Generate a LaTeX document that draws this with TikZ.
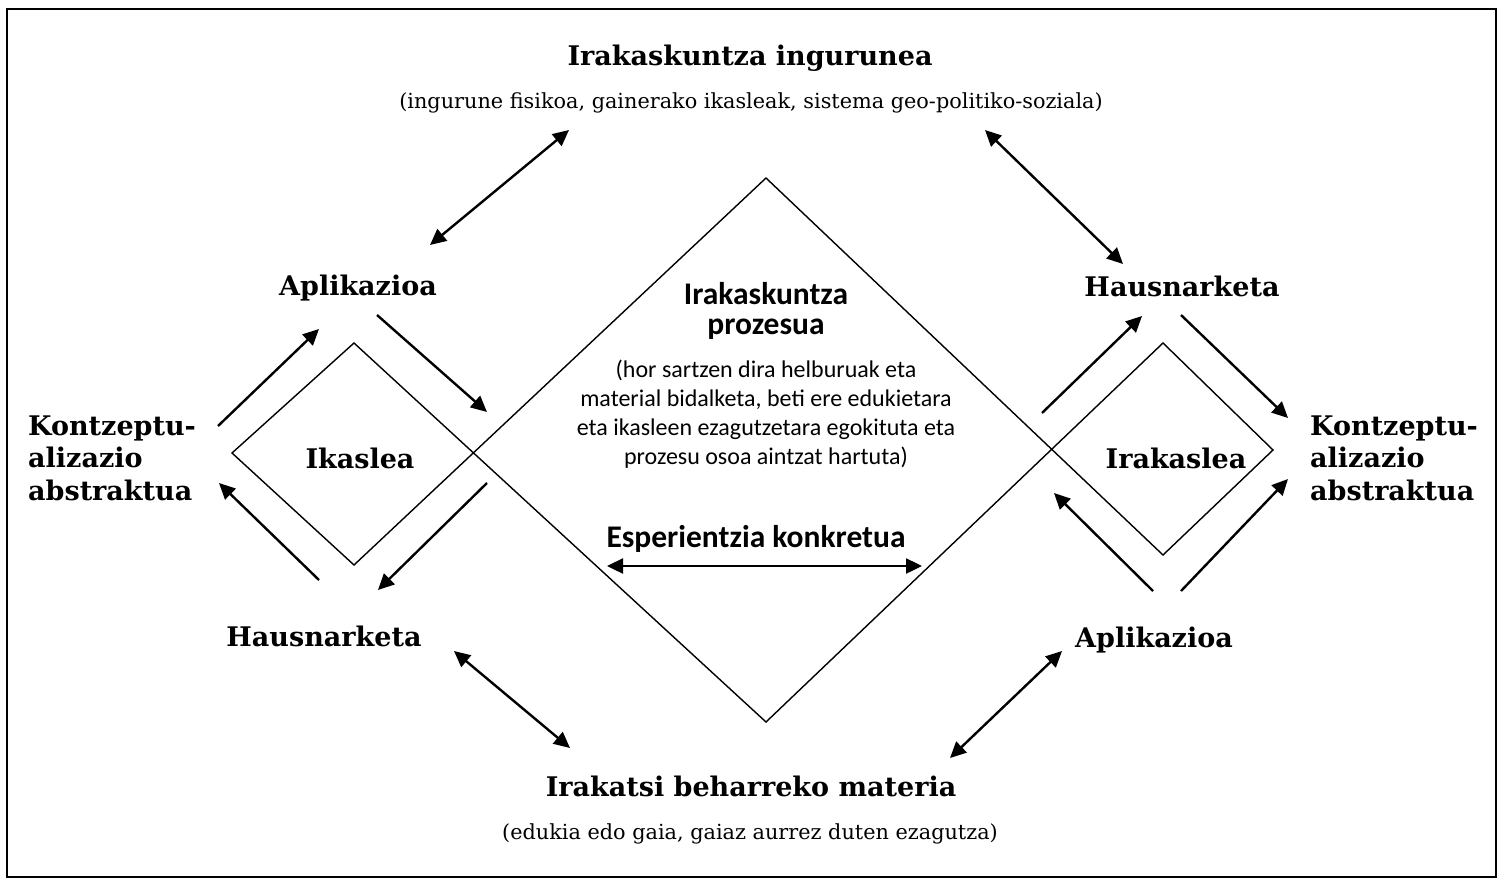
\documentclass[tikz,border=0pt]{standalone}
\usepackage{fontspec}
\setmainfont{DejaVu Serif}
\newfontfamily\calib{Carlito}
\usetikzlibrary{arrows.meta}

\begin{document}
\begin{tikzpicture}[x=1pt,y=-1pt,
  frame/.style={draw=black,line width=1.8pt},
  outline/.style={draw=black,line width=1.4pt,line join=miter},
  tip/.style={Triangle[length=16pt,width=15pt]},
  flow/.style={line width=2.4pt,-{Triangle[length=16pt,width=15pt]}},
  link/.style={line width=2.4pt,{Triangle[length=16pt,width=15pt]}-{Triangle[length=16pt,width=15pt]}},
  title/.style={font=\bfseries\fontsize{27}{33}\selectfont,inner sep=0pt,anchor=base},
  subtitle/.style={font=\fontsize{20.8}{25}\selectfont,inner sep=0pt,anchor=base},
  phase/.style={font=\bfseries\fontsize{27}{33}\selectfont,inner sep=0pt,anchor=base},
  concept/.style={font=\bfseries\fontsize{27}{32.5}\selectfont,inner sep=0pt,align=left,anchor=base west},
  proctitle/.style={font=\calib\bfseries\fontsize{31.5}{30}\selectfont,inner sep=0pt,align=center,anchor=base},
  procnote/.style={font=\calib\fontsize{24}{28.7}\selectfont,inner sep=0pt,align=center,anchor=base},
]
\useasboundingbox (0,0) rectangle (1501,886);
\fill[white] (0,0) rectangle (1501,886);
\draw[frame] (7,9) rectangle (1496,877);

% diamonds: central process diamond crossing the learner and teacher diamonds
\draw[outline] (766,178) -- (354,565) -- (232,453) -- (354,343) -- (766,722)
  -- (1163,343) -- (1273,450) -- (1163,555) -- cycle;

% environment and subject matter
\node[title] (env) at (750,65) {Irakaskuntza ingurunea};
\node[subtitle] (envnote) at (751,108) {(ingurune fisikoa, gainerako ikasleak, sistema geo-politiko-soziala)};
\node[title] (matter) at (751,796) {Irakatsi beharreko materia};
\node[subtitle] (matternote) at (750,839) {(edukia edo gaia, gaiaz aurrez duten ezagutza)};

% learner cycle
\node[phase] (lapp) at (358,295) {Aplikazioa};
\node[phase] (lrefl) at (324,646) {Hausnarketa};
\node[phase] (learner) at (360,468) {Ikaslea};
\node[concept] (lconc) at (28,500) {Kontzeptu-\\alizazio\\abstraktua};

% teacher cycle
\node[phase] (trefl) at (1182,296) {Hausnarketa};
\node[phase] (tapp) at (1154,647) {Aplikazioa};
\node[phase] (teacher) at (1176,468) {Irakaslea};
\node[concept] (tconc) at (1310,500) {Kontzeptu-\\alizazio\\abstraktua};

% teaching process (base anchor sits on the last line)
\node[proctitle] (proc) at (766,334) {Irakaskuntza\\prozesua};
\node[procnote] (procdesc) at (766,464) {(hor sartzen dira helburuak eta\\material bidalketa, beti ere edukietara\\eta ikasleen ezagutzetara egokituta eta\\prozesu osoa aintzat hartuta)};
\node[proctitle] (exp) at (756,547) {Esperientzia konkretua};

% arrow end points
\coordinate (a1s) at (218,426); \coordinate (a1e) at (319,329);
\coordinate (a2s) at (377,315); \coordinate (a2e) at (487,412);
\coordinate (a3s) at (487,483); \coordinate (a3e) at (378,590);
\coordinate (a4s) at (319,580); \coordinate (a4e) at (219,483);
\coordinate (b1s) at (1042,413); \coordinate (b1e) at (1142,316);
\coordinate (b2s) at (1181,315); \coordinate (b2e) at (1288,418);
\coordinate (b3s) at (1153,591); \coordinate (b3e) at (1054,493);
\coordinate (b4s) at (1181,591); \coordinate (b4e) at (1288,479);
\coordinate (d1a) at (430,245); \coordinate (d1b) at (569,130);
\coordinate (d2a) at (985,130); \coordinate (d2b) at (1123,264);
\coordinate (d3a) at (454,651); \coordinate (d3b) at (570,748);
\coordinate (d4a) at (1062,651); \coordinate (d4b) at (950,758);
\coordinate (ea) at (607,566); \coordinate (eb) at (922,566);

% cycle arrows
\draw[flow] (a1s) -- (a1e);
\draw[flow] (a2s) -- (a2e);
\draw[flow] (a3s) -- (a3e);
\draw[flow] (a4s) -- (a4e);
\draw[flow] (b1s) -- (b1e);
\draw[flow] (b2s) -- (b2e);
\draw[flow] (b3s) -- (b3e);
\draw[flow] (b4s) -- (b4e);

% two-way links
\draw[link] (d1a) -- (d1b);
\draw[link] (d2a) -- (d2b);
\draw[link] (d3a) -- (d3b);
\draw[link] (d4a) -- (d4b);
\draw[link] (ea) -- (eb);
\end{tikzpicture}
\end{document}
